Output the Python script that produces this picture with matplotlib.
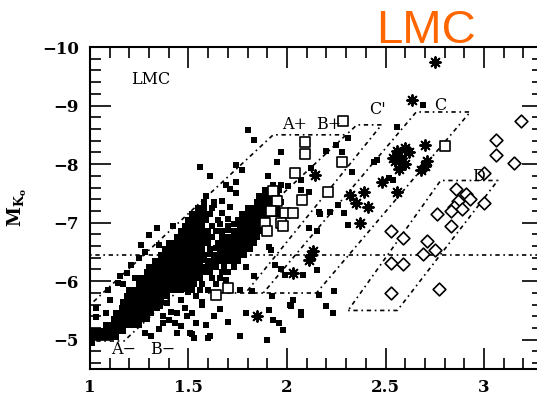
import matplotlib
matplotlib.use('Agg')
import matplotlib.pyplot as plt
from matplotlib.ticker import MultipleLocator, FuncFormatter

# ---------------- data ----------------
# main dense sequence (rows: magnitude, list of colours)
band_a_rows = [
    (-5.05, [1.01, 1.03, 1.06, 1.08, 1.11, 1.13]),
    (-5.15, [1.02, 1.05, 1.07, 1.10, 1.12, 1.15, 1.17]),
    (-5.25, [1.08, 1.10, 1.13, 1.15, 1.18, 1.20, 1.23, 1.25]),
    (-5.35, [1.12, 1.14, 1.16, 1.19, 1.21, 1.24, 1.26, 1.29]),
    (-5.45, [1.13, 1.16, 1.19, 1.21, 1.24, 1.26, 1.29, 1.31]),
    (-5.55, [1.16, 1.18, 1.21, 1.23, 1.26, 1.28, 1.31, 1.34]),
    (-5.65, [1.17, 1.20, 1.23, 1.25, 1.28, 1.30, 1.33, 1.36]),
    (-5.75, [1.19, 1.22, 1.24, 1.27, 1.29, 1.32, 1.34, 1.36, 1.39]),
    (-5.85, [1.21, 1.24, 1.27, 1.29, 1.32, 1.34, 1.37, 1.39, 1.41, 1.43]),
    (-5.95, [1.25, 1.27, 1.30, 1.32, 1.35, 1.37, 1.40, 1.42, 1.44]),
    (-6.05, [1.26, 1.29, 1.32, 1.34, 1.37, 1.39, 1.42, 1.44, 1.46, 1.48]),
    (-6.15, [1.29, 1.31, 1.34, 1.36, 1.39, 1.41, 1.44, 1.46, 1.49]),
    (-6.25, [1.30, 1.33, 1.35, 1.38, 1.40, 1.43, 1.45, 1.48, 1.50, 1.52]),
    (-6.35, [1.33, 1.35, 1.38, 1.40, 1.43, 1.45, 1.48, 1.50, 1.53]),
    (-6.45, [1.36, 1.38, 1.41, 1.43, 1.46, 1.48, 1.51, 1.53, 1.56]),
    (-6.55, [1.38, 1.40, 1.42, 1.45, 1.47, 1.50, 1.52, 1.55, 1.57]),
    (-6.65, [1.40, 1.42, 1.45, 1.47, 1.50, 1.52, 1.55, 1.57, 1.60]),
    (-6.75, [1.44, 1.46, 1.49, 1.51, 1.54, 1.56, 1.59, 1.62]),
    (-6.85, [1.46, 1.49, 1.52, 1.54, 1.57, 1.60]),
    (-6.95, [1.48, 1.51, 1.54, 1.57]),
    (-7.05, [1.50, 1.53, 1.56, 1.59]),
    (-7.15, [1.52, 1.55, 1.58, 1.61]),
    (-7.25, [1.55, 1.58, 1.62]),
    (-7.35, [1.58, 1.63]),
]
band_b_rows = [
    (-5.85, [1.52, 1.56, 1.60]),
    (-5.95, [1.50, 1.53, 1.57, 1.64]),
    (-6.05, [1.53, 1.56, 1.62, 1.66]),
    (-6.15, [1.55, 1.58, 1.61, 1.67, 1.70]),
    (-6.25, [1.58, 1.61, 1.64, 1.68, 1.73]),
    (-6.35, [1.60, 1.63, 1.66, 1.69, 1.72, 1.75]),
    (-6.45, [1.63, 1.66, 1.69, 1.72, 1.75, 1.78]),
    (-6.55, [1.66, 1.69, 1.72, 1.75, 1.78, 1.81]),
    (-6.65, [1.68, 1.71, 1.74, 1.77, 1.80, 1.83]),
    (-6.75, [1.70, 1.73, 1.76, 1.79, 1.82, 1.85]),
    (-6.85, [1.73, 1.76, 1.79, 1.82, 1.85, 1.87]),
    (-6.95, [1.76, 1.79, 1.82, 1.85, 1.88]),
    (-7.05, [1.78, 1.81, 1.84, 1.87, 1.90]),
    (-7.15, [1.80, 1.83, 1.86, 1.89, 1.92, 1.95]),
    (-7.25, [1.83, 1.86, 1.89, 1.92, 1.95]),
    (-7.35, [1.85, 1.88, 1.91, 1.94, 1.97]),
    (-7.45, [1.86, 1.89, 1.92, 1.95]),
    (-7.55, [1.89, 1.93, 1.96]),
    (-7.65, [1.93, 1.97]),
]
# stars filling the seam between the two sequences
seam_pts = [
    (1.46, -5.85), (1.49, -5.87), (1.47, -5.97), (1.50, -6.05), (1.52, -6.15),
    (1.55, -6.25), (1.56, -6.35), (1.58, -6.37), (1.58, -6.45), (1.61, -6.47),
    (1.61, -6.55), (1.64, -6.57), (1.65, -6.65), (1.67, -6.75), (1.64, -6.85),
    (1.67, -6.85), (1.70, -6.87), (1.62, -6.95), (1.66, -6.97), (1.70, -6.95),
    (1.73, -6.97), (1.65, -7.05), (1.70, -7.07), (1.75, -7.05), (1.67, -7.17),
    (1.77, -7.15), (1.71, -7.27), (1.80, -7.25),
]
# isolated filled squares
loose_pts = [
    (1.01, -4.95), (1.03, -5.38), (1.08, -5.46), (1.03, -5.55), (1.10, -5.68),
    (1.09, -5.85), (1.14, -5.97), (1.15, -6.08), (1.19, -6.14), (1.20, -5.85),
    (1.21, -6.28), (1.25, -6.40), (1.26, -6.62), (1.30, -6.79), (1.35, -6.62),
    (1.17, -5.96), (1.23, -6.05), (1.28, -6.50), (1.34, -6.90), (1.42, -6.95),
    (1.37, -5.29), (1.355, -5.57), (1.41, -5.48), (1.46, -5.68), (1.49, -5.40),
    (1.51, -5.12), (1.54, -5.29), (1.46, -5.23), (1.40, -5.34), (1.50, -5.82),
    (1.54, -5.74), (1.57, -5.65), (1.44, -5.12), (1.31, -5.06), (1.43, -5.29),
    (1.37, -5.40), (1.57, -5.60), (1.63, -5.40), (1.61, -5.06), (1.76, -5.06),
    (1.52, -5.09), (1.53, -5.03), (1.60, -5.03), (1.79, -5.46), (1.76, -5.85),
    (1.66, -5.52), (1.70, -5.30), (1.59, -5.25), (1.48, -5.55), (1.52, -5.45),
    (1.44, -5.45), (1.47, -5.92), (1.35, -5.18), (1.28, -5.12), (1.39, -5.62),
    (1.82, -5.83), (1.83, -6.08), (1.73, -6.51), (1.79, -6.25), (1.69, -6.02),
    (1.56, -7.95), (1.61, -7.79), (1.59, -7.45), (1.63, -7.30), (1.69, -7.65),
    (1.71, -7.57), (1.74, -7.51), (1.74, -7.70), (1.74, -7.99), (1.77, -7.90),
    (1.80, -8.58), (1.83, -8.41), (1.905, -7.79), (1.95, -8.04), (1.97, -8.21),
    (2.005, -7.62), (2.07, -7.73), (2.12, -7.94), (2.20, -8.22), (2.25, -8.32),
    (2.28, -8.21), (2.31, -8.44), (2.33, -7.87), (2.44, -8.04), (2.52, -7.77),
    (1.67, -7.37), (2.455, -8.07), (2.56, -8.64), (2.69, -9.01), (2.54, -7.73),
    (2.11, -7.53), (2.07, -7.56), (2.16, -7.19), (2.22, -7.19), (2.26, -7.30),
    (2.29, -7.17), (2.31, -6.96), (2.15, -6.85), (2.11, -6.90), (2.17, -7.14),
    (1.91, -6.59), (1.92, -6.54), (1.94, -6.28), (1.97, -6.20), (1.99, -6.11),
    (2.08, -6.11), (2.15, -6.19), (2.24, -5.83), (2.16, -5.77), (1.925, -5.74),
    (2.03, -5.68), (2.20, -5.58), (2.235, -5.46), (2.015, -5.60), (2.07, -5.48),
    (1.91, -5.51), (1.93, -5.34), (1.98, -5.17), (1.90, -5.00), (1.96, -5.29),
    (2.02, -5.57), (2.07, -5.43),
]
open_sq = [
    (2.285, -8.73), (2.09, -8.38), (2.09, -8.17), (2.04, -7.85), (2.28, -8.04),
    (2.21, -7.53), (2.075, -7.39), (1.93, -7.54), (1.95, -7.37), (1.92, -7.20),
    (1.99, -7.17), (2.03, -7.17), (1.97, -7.00), (1.89, -7.00), (1.90, -6.86),
    (1.98, -6.94), (1.64, -5.77), (1.70, -5.89), (2.80, -8.31),
]
asterisks = [
    (2.75, -9.74), (2.633, -9.10), (2.56, -8.23), (2.60, -8.28), (2.58, -8.11),
    (2.55, -8.06), (2.60, -8.00), (2.57, -7.91), (2.54, -8.11), (2.62, -8.20),
    (2.70, -8.33), (2.71, -8.06), (2.68, -7.90), (2.70, -7.97), (2.48, -7.70),
    (2.56, -7.53), (2.32, -7.47), (2.35, -7.34), (2.41, -7.27), (2.39, -7.53),
    (2.37, -7.00), (2.14, -7.82), (2.13, -6.51), (2.11, -6.37), (2.12, -6.45),
    (2.03, -6.14), (1.85, -5.40),
]
diamonds = [
    (3.19, -8.73), (3.06, -8.41), (3.06, -8.16), (3.15, -8.02), (3.00, -7.85),
    (2.86, -7.57), (2.91, -7.49), (2.87, -7.37), (2.85, -7.26), (2.89, -7.23),
    (2.93, -7.40), (3.00, -7.34), (2.83, -7.20), (2.76, -7.14), (2.83, -6.95),
    (2.53, -6.86), (2.59, -6.74), (2.71, -6.69), (2.69, -6.46), (2.75, -6.54),
    (2.53, -6.31), (2.59, -6.29), (2.53, -5.80), (2.77, -5.86),
]
# region boundaries (dash-dot polylines)
trgb_mag = -6.45
box_lines = [
    [(0.80, -4.97), (1.17, -4.97)],
    [(0.80, -4.97), (1.93, -8.50), (2.30, -8.50)],
    [(1.17, -4.97), (2.355, -8.67), (2.48, -8.67), (1.79, -5.80)],
    [(1.60, -5.80), (2.15, -5.80)],
    [(1.88, -5.80), (2.656, -8.89), (2.93, -8.89), (2.15, -5.80)],
    [(2.31, -5.50), (2.56, -5.50), (3.07, -7.72), (2.78, -7.72), (2.31, -5.50)],
]
labels = [
    ('LMC', 1.31, -9.44), ('A+', 2.04, -8.67), ('B+', 2.21, -8.67),
    ("C'", 2.46, -8.93), ('C', 2.78, -9.00), ('D', 2.97, -7.79),
    ('A\u2212', 1.17, -4.83), ('B\u2212', 1.37, -4.83),
]
xticks = [1, 1.5, 2, 2.5, 3]

# ---------------- figure ----------------
W, H = 537, 401
plt.rcParams['mathtext.fontset'] = 'dejavuserif'
fig = plt.figure(figsize=(W / 100, H / 100), dpi=100)
ax = fig.add_axes([90 / W, (H - 369) / H, 2.3 * 197 / W, (369 - 47) / H])
ax.set_xlim(1, 3.3)
ax.set_ylim(-4.5, -10)


def expand(rows):
    xs, ys = [], []
    for y, xl in rows:
        for x in xl:
            xs.append(x)
            ys.append(y)
    return xs, ys


dot_kw = dict(marker='s', s=21, c='black', linewidths=0, zorder=3)
for rows in (band_a_rows, band_b_rows):
    xs, ys = expand(rows)
    ax.scatter(xs, ys, **dot_kw)
for pts in (seam_pts, loose_pts):
    ax.scatter([p[0] for p in pts], [p[1] for p in pts], **dot_kw)
ax.scatter([p[0] for p in open_sq], [p[1] for p in open_sq], marker='s',
           s=50, facecolors='white', edgecolors='black', linewidths=1.2, zorder=4)
ax.scatter([p[0] for p in asterisks], [p[1] for p in asterisks], marker=(8, 2, 0),
           s=60, c='black', linewidths=1.4, zorder=4)
ax.scatter([p[0] for p in diamonds], [p[1] for p in diamonds], marker='D',
           s=42, facecolors='white', edgecolors='black', linewidths=1.2, zorder=4)

ls = (0, (1.0, 2.2, 2.6, 2.2))
ax.axhline(trgb_mag, color='black', lw=1.2, ls=ls, zorder=2)
for seg in box_lines:
    ax.plot([p[0] for p in seg], [p[1] for p in seg], color='black', lw=1.2,
            ls=ls, zorder=2)

for txt, x, y in labels:
    ax.text(x, y, txt, family='DejaVu Serif', fontsize=11.5, ha='center',
            va='center', zorder=5)

ax.set_xticks(xticks)
ax.xaxis.set_minor_locator(MultipleLocator(0.1))
ax.yaxis.set_major_locator(MultipleLocator(1))
ax.yaxis.set_minor_locator(MultipleLocator(0.2))
ax.xaxis.set_major_formatter(FuncFormatter(lambda v, p: f'{v:g}'))
ax.yaxis.set_major_formatter(FuncFormatter(lambda v, p: f'{v:g}'.replace('-', '\u2212')))
ax.tick_params(which='both', direction='in', top=True, right=True, width=1.2,
               colors='black')
ax.tick_params(which='major', length=15)
ax.tick_params(which='minor', length=8)
ax.tick_params(axis='x', which='major', pad=7)
ax.tick_params(axis='y', which='major', pad=8)
for lab in ax.get_xticklabels() + ax.get_yticklabels():
    lab.set_family('DejaVu Serif')
    lab.set_fontweight('bold')
    lab.set_fontsize(12)
for sp in ax.spines.values():
    sp.set_linewidth(1.5)

ax.set_ylabel(r'$\mathbf{M_{K_o}}$', fontsize=13, labelpad=0)
ax.yaxis.set_label_coords(-0.135, 0.5)

fig.text(426 / W, 1 - 43 / H, 'LMC', color='#FF6600', fontsize=34,
         family='Liberation Sans', ha='center', va='baseline')

fig.savefig('out.png', dpi=100)
